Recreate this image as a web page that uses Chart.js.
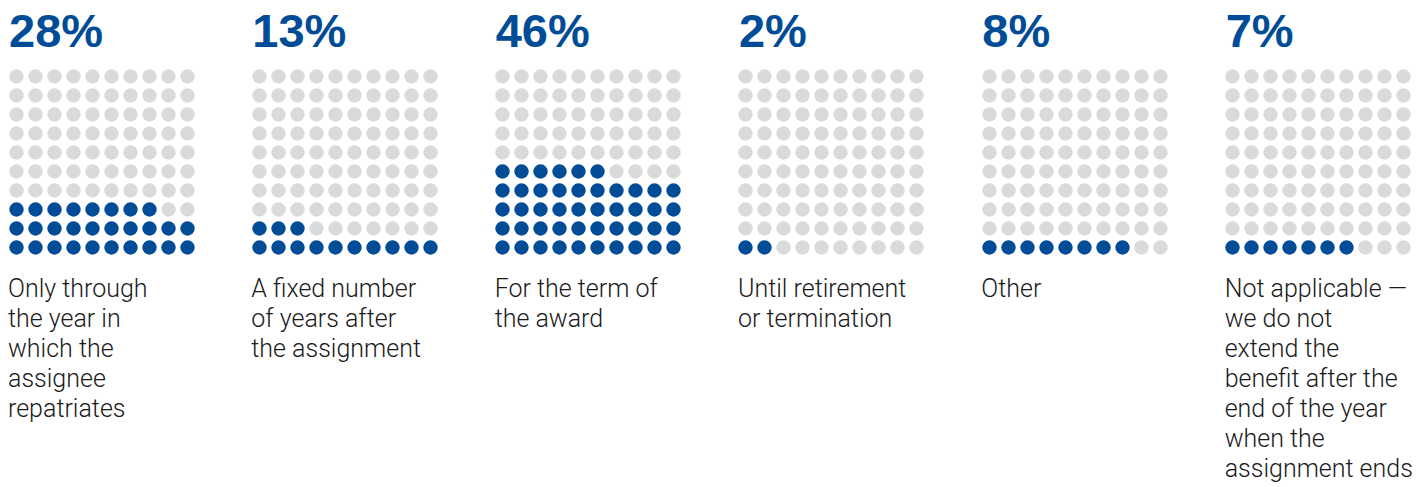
<!DOCTYPE html>
<html lang="en">
<head>
  <meta charset="UTF-8" />
  <title>Waffle charts</title>
  <style>
    body {
      margin: 0;
      background: #ffffff;
      width: 1426px;
      height: 487px;
      overflow: hidden;
      position: relative;
    }
    .panel {
      position: absolute;
      top: 0;
      width: 240px;
      height: 487px;
    }
    .pct {
      position: absolute;
      left: 0;
      top: 7px;
      font-family: "Liberation Sans", Arial, sans-serif;
      font-weight: bold;
      font-size: 47px;
      line-height: 47px;
      color: #004c97;
      white-space: nowrap;
    }
    .panel canvas {
      position: absolute;
      left: -2.5px;
      top: 66.5px;
    }
    .label {
      position: absolute;
      left: -1px;
      top: 274px;
      font-family: Roboto, sans-serif;
      font-weight: 300;
      font-size: 25px;
      line-height: 30px;
      color: #1a1a1a;
      white-space: nowrap;
    }
  </style>
</head>
<body>
  <div id="wrap"></div>
  <script src="https://cdn.jsdelivr.net/npm/chart.js"></script>
  <script>
    const percents = [28, 13, 46, 2, 8, 7];
    const labels = [
      ["Only through", "the year in", "which the", "assignee", "repatriates"],
      ["A fixed number", "of years after", "the assignment"],
      ["For the term of", "the award"],
      ["Until retirement", "or termination"],
      ["Other"],
      ["Not applicable \u2014", "we do not", "extend the", "benefit after the", "end of the year", "when the", "assignment ends"]
    ];
    const BLUE = "#004c97";
    const GRAY = "#d9dadb";

    const wrap = document.getElementById("wrap");

    percents.forEach((pct, i) => {
      const panel = document.createElement("div");
      panel.className = "panel";
      panel.style.left = (9 + i * 243.33) + "px";

      const title = document.createElement("div");
      title.className = "pct";
      title.textContent = pct + "%";
      panel.appendChild(title);

      const canvas = document.createElement("canvas");
      canvas.width = 190;
      canvas.height = 190;
      canvas.style.width = "190px";
      canvas.style.height = "190px";
      panel.appendChild(canvas);

      const label = document.createElement("div");
      label.className = "label";
      label.innerHTML = labels[i].join("<br>");
      panel.appendChild(label);

      wrap.appendChild(panel);

      // fill from bottom row, left to right
      const points = [];
      const colors = [];
      for (let k = 0; k < 100; k++) {
        points.push({ x: k % 10, y: Math.floor(k / 10) });
        colors.push(k < pct ? BLUE : GRAY);
      }

      new Chart(canvas.getContext("2d"), {
        type: "scatter",
        data: {
          datasets: [{
            data: points,
            pointRadius: 7.2,
            pointHoverRadius: 7.2,
            pointBorderWidth: 0,
            pointBackgroundColor: colors,
            pointBorderColor: colors,
            clip: false
          }]
        },
        options: {
          responsive: false,
          animation: false,
          events: [],
          layout: { padding: 0, autoPadding: false },
          plugins: {
            legend: { display: false },
            tooltip: { enabled: false }
          },
          scales: {
            x: { type: "linear", min: -0.5, max: 9.5, display: false },
            y: { type: "linear", min: -0.5, max: 9.5, display: false }
          }
        }
      });
    });
  </script>
</body>
</html>
